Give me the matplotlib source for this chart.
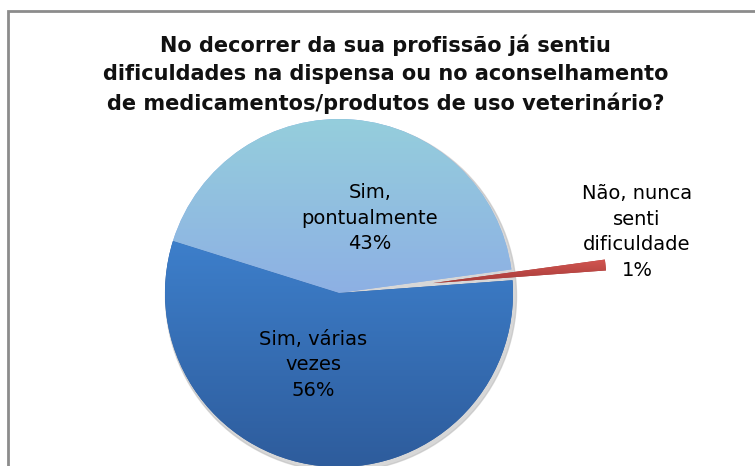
import matplotlib.pyplot as plt
import numpy as np
from matplotlib.colors import LinearSegmentedColormap
from matplotlib.patches import Rectangle

# dados
labels = ["Não, nunca\nsenti\ndificuldade", "Sim,\npontualmente", "Sim, várias\nvezes"]
values = [1, 43, 56]
title = ("No decorrer da sua profissão já sentiu\n"
         "dificuldades na dispensa ou no aconselhamento\n"
         "de medicamentos/produtos de uso veterinário?")

# cores (topo -> base) para simular o gradiente
grads = [("#D35551", "#A63C39"), ("#95CEDC", "#8DB0E4"), ("#3D7FCB", "#2E5C9C")]

W, H = 755, 466
fig = plt.figure(figsize=(W / 100, H / 100), dpi=100)
ax = fig.add_axes([0, 0, 1, 1])

# moldura (cortada à direita e em baixo)
ax.add_patch(Rectangle((8, -20), W + 40, H - 10 + 20 - 1, fill=False,
                       edgecolor="#8c8c8c", linewidth=2))

cx, cy, r = 339, H - 293, 174
# explode em unidades de dados
wedges, _ = ax.pie(values, startangle=4.2, counterclock=True,
                   explode=[0.54 * r, 0, 0], center=(cx, cy), radius=r,
                   wedgeprops=dict(linewidth=0), frame=True)
ax.set_xlim(0, W)
ax.set_ylim(0, H)
ax.set_aspect("equal")
ax.axis("off")

# sombra suave
shadow = plt.Circle((cx + 2, cy - 3), r + 1.5, color="#bdbdbd", alpha=0.6, zorder=0.5)
ax.add_patch(shadow)

# gradiente vertical em cada fatia
for w, (c_top, c_bot) in zip(wedges, grads):
    w.set_zorder(1)
    bb = w.get_path().get_extents(w.get_transform() + ax.transData.inverted())
    cmap = LinearSegmentedColormap.from_list("g", [c_bot, c_top])
    grad = np.linspace(0, 1, 256).reshape(-1, 1)
    im = ax.imshow(grad, cmap=cmap, origin="lower", aspect="auto",
                   extent=(bb.x0, bb.x1, bb.y0, bb.y1), zorder=2)
    im.set_clip_path(w)
    w.set_facecolor(c_bot)
ax.set_xlim(0, W)
ax.set_ylim(0, H)

font = "DejaVu Sans"
ax.text(W / 2 + 8, H - 74, title, ha="center", va="center", fontsize=15,
        fontweight="bold", family=font, linespacing=1.5, color="#111111")

lab_kw = dict(ha="center", va="center", fontsize=14, family=font,
              linespacing=1.45, zorder=5)
ax.text(370, H - 218, labels[1] + "\n43%", **lab_kw)
ax.text(313, H - 365, labels[2] + "\n56%", **lab_kw)
ax.text(637, H - 232, labels[0] + "\n1%", **lab_kw)

fig.savefig("out.png", dpi=100)
